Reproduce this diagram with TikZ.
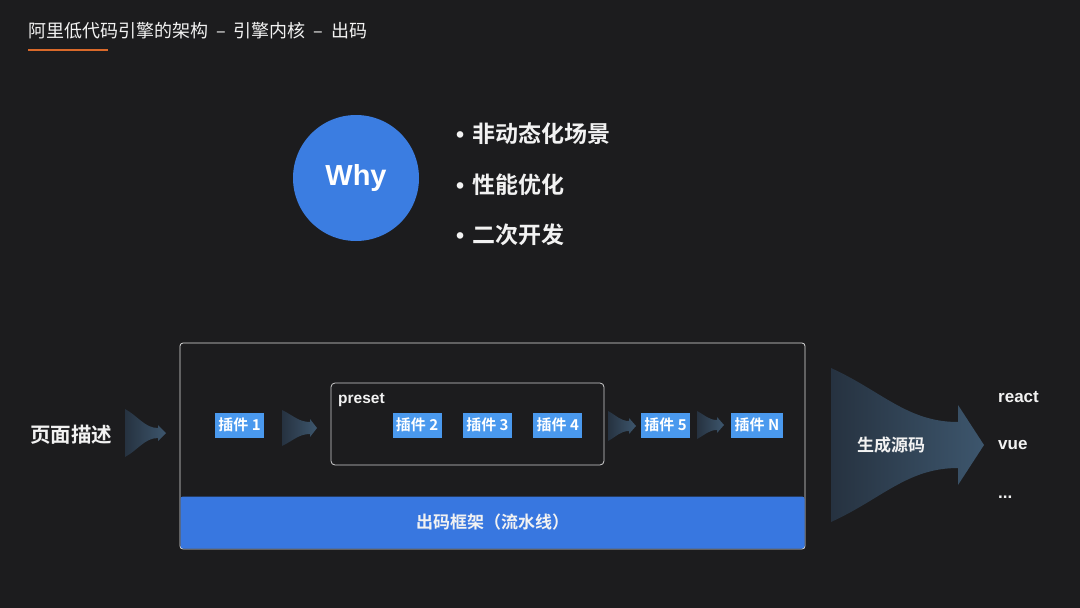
\documentclass[tikz,border=0pt]{standalone}
\usepackage{fontspec}
\setmainfont{Noto Sans CJK SC}[BoldFont={Noto Sans CJK SC Bold}]
\newfontfamily\latin{Liberation Sans}
\usetikzlibrary{positioning,calc}
\usepackage{xcolor}
\definecolor{bgdark}{HTML}{1C1C1E}
\definecolor{textlight}{HTML}{F2F2F2}
\definecolor{whyblue}{HTML}{3B7DE1}
\definecolor{barblue}{HTML}{3877E0}
\definecolor{plugblue}{HTML}{4A99EE}
\definecolor{lineorange}{HTML}{D9692A}
\definecolor{funl}{HTML}{263240}
\definecolor{funr}{HTML}{3D566D}
\newcommand{\fs}[1]{\fontsize{#1}{#1}\selectfont}
\newcommand{\dashsep}{\hspace{8pt}–\hspace{8pt}}
% funnel arrow: start, tip, half height, shaft, head, head length
\newcommand{\flowarrow}[6]{%
  \path[funnel] let \p1=(#1), \p2=(#2), \n1={\x2-\x1-#6} in
    (\x1,\y1+#3) .. controls ({\x1+0.4*\n1},{\y1+0.7*#3}) and ({\x1+0.6*\n1},{\y1+#4}) .. ({\x2-#6},{\y1+#4})
    -- ({\x2-#6},{\y1+#5}) -- (\x2,\y1) -- ({\x2-#6},{\y1-#5}) -- ({\x2-#6},{\y1-#4})
    .. controls ({\x1+0.6*\n1},{\y1-#4}) and ({\x1+0.4*\n1},{\y1-0.7*#3}) .. (\x1,\y1-#3) -- cycle;
}
\tikzset{
  funnel/.style={left color=funl, right color=funr},
  plugin/.style={fill=plugblue, text=white, font=\bfseries\fs{15}, inner sep=0pt,
    minimum width=49pt, minimum height=25pt},
  bullet/.style={text=textlight, font=\bfseries\fs{23}, inner sep=0pt, minimum height=50pt, anchor=west},
  outlabel/.style={text=textlight, font=\latin\bfseries\fs{17}, anchor=west, inner sep=0pt}
}

\begin{document}
\begin{tikzpicture}[x=1pt, y=-1pt]
\useasboundingbox[fill=bgdark] (0,0) rectangle (1080,608);

% title
\node[anchor=west, inner sep=0pt, text=textlight, font=\fs{18}] (title) at (28,31)
  {阿里低代码引擎的架构\dashsep 引擎内核\dashsep 出码};
\coordinate (ul0) at (28,50);
\coordinate (ul1) at (108,50);
\draw[lineorange, line width=2.5pt] (ul0) -- (ul1);

% why
\node[circle, fill=whyblue, minimum size=126pt, inner sep=0pt, text=white,
  font=\latin\bfseries\fs{29}] (why) at (356,178) {Why};
\node[bullet] (b1) at (456,134) {{\latin •}\hspace{8pt}非动态化场景};
\node[bullet, below=0pt of b1.south west, anchor=north west] (b2) {{\latin •}\hspace{8pt}性能优化};
\node[bullet, below=0pt of b2.south west, anchor=north west] (b3) {{\latin •}\hspace{8pt}二次开发};

% input
\node[anchor=west, inner sep=0pt, text=textlight, font=\bfseries\fs{20.5}] (desc) at (30,435) {页面描述};

% pipeline frame
\node[draw=white!88!black, fill=bgdark, rounded corners=3pt, line width=0.8pt,
  minimum width=625pt, minimum height=206pt, inner sep=0pt] (frame) at (492.5,446) {};
\node[fill=barblue, rounded corners=2.5pt, minimum width=624pt, minimum height=52pt,
  inner sep=0pt, text=textlight, font=\bfseries\fs{17}] (bar) at (492.5,522.5) {出码框架（流水线）};

% preset group
\node[draw=white!82!black, rounded corners=4pt, line width=0.8pt,
  minimum width=273pt, minimum height=82pt, inner sep=0pt] (preset) at (467.5,424) {};
\node[anchor=north west, inner sep=0pt, text=textlight, font=\latin\bfseries\fs{15.5}]
  (presetlbl) at (338,393) {preset};

% plugins
\node[plugin] (p1) at (239.5,425) {插件 1};
\node[plugin] (p2) at (417,425) {插件 2};
\node[plugin, right=21pt of p2] (p3) {插件 3};
\node[plugin, right=21pt of p3] (p4) {插件 4};
\node[plugin] (p5) at (665.5,425) {插件 5};
\node[plugin, minimum width=52pt] (pN) at (757,425) {插件 N};

% funnels
\coordinate (f1s) at (125,433); \coordinate (f1e) at (166,433);
\coordinate (f2s) at (282,428); \coordinate (f2e) at (317,428);
\coordinate (f3s) at (608,426); \coordinate (f3e) at (636,426);
\coordinate (f4s) at (697,425); \coordinate (f4e) at (724,425);
\coordinate (f5s) at (831,445); \coordinate (f5e) at (984,445);
\flowarrow{f1s}{f1e}{24}{5}{8}{8}
\flowarrow{f2s}{f2e}{18}{6}{9}{7}
\flowarrow{f3s}{f3e}{15}{5}{8}{7}
\flowarrow{f4s}{f4e}{14}{5}{8}{7}
\flowarrow{f5s}{f5e}{77}{23}{40}{26}
\node[text=textlight, font=\bfseries\fs{17}, inner sep=0pt] (gen) at (891,445) {生成源码};

% outputs
\node[outlabel] (react) at (998,397) {react};
\node[outlabel] (vue) at (998,445) {vue};
\node[outlabel] (more) at (998,497) {...};
\end{tikzpicture}
\end{document}
